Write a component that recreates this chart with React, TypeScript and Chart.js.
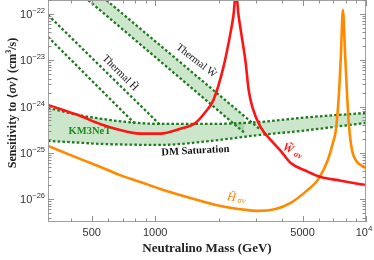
import React, { useEffect, useRef } from 'react';
import { Chart, registerables } from 'chart.js';
Chart.register(...registerables);

// ---- data (mass in GeV, sensitivity in cm^3/s) ----
const redMass = [310, 439, 547, 681, 848, 1056, 1315, 1551, 1730, 1889, 2108, 2276, 2352, 2417, 2484, 2567, 2683, 2774, 2897, 3162, 3528, 3938, 4396, 5180, 6105, 7603, 10000];
const redSigma = [1.08e-24, 6.3e-25, 4.2e-25, 3.1e-25, 2.6e-25, 2.6e-25, 3.3e-25, 4.4e-25, 7.6e-25, 1.39e-24, 7.2e-24, 3.9e-23, 9.5e-23, 3e-22, 9.5e-23, 3.5e-23, 9.2e-24, 2.3e-24, 9.3e-25, 3.6e-25, 1.9e-25, 1.1e-25, 6.0e-26, 4.1e-26, 3.0e-26, 2.5e-26, 2.0e-26];

const orangeMass = [310, 439, 547, 681, 848, 1056, 1468, 2039, 2683, 3094, 3727, 4396, 5294, 5906, 6592, 6965, 7196, 7435, 7603, 7772, 7943, 8120, 8298, 8577, 9063, 10000];
const orangeSigma = [1.41e-25, 7.4e-26, 5.0e-26, 3.3e-26, 2.35e-26, 1.66e-26, 1.06e-26, 7.1e-27, 5.85e-27, 5.56e-27, 6.14e-27, 8.3e-27, 1.58e-26, 2.6e-26, 7.0e-26, 1.64e-25, 3.1e-25, 1.78e-24, 1.3e-23, 1.22e-22, 1.67e-23, 2.07e-24, 4.0e-25, 1.16e-25, 6.4e-26, 4.7e-26];

const km3Mass = [310, 454, 547, 659, 1056, 1828, 3162, 4903, 10000];
const km3Upper = [9.33e-25, 6.27e-25, 5.5e-25, 4.89e-25, 4.21e-25, 4.21e-25, 4.64e-25, 5.68e-25, 7.28e-25];
const km3Lower = [1.81e-25, 1.64e-25, 1.56e-25, 1.52e-25, 1.48e-25, 1.81e-25, 2.44e-25, 2.97e-25, 4.43e-25];

const thermalWLowerMass = [394, 2653];
const thermalWLowerSigma = [4.31e-22, 2.69e-25];
const thermalWUpperMass = [480, 3162];
const thermalWUpperSigma = [4.27e-22, 3.13e-25];

const thermalHAMass = [310, 1056];
const thermalHASigma = [9.5e-23, 4.0e-25];
const thermalHBMass = [310, 803];
const thermalHBSigma = [3.19e-23, 4.2e-25];

const xTickValues = [500, 1000, 5000, 10000];
const xTickLabels = ['500', '1000', '5000', '10|4'];
const yTickValues = [1e-22, 1e-23, 1e-24, 1e-25, 1e-26];
const yTickExponents = ['\u221222', '\u221223', '\u221224', '\u221225', '\u221226'];

const X_MIN = 310, X_MAX = 10000, Y_MIN = 3.2e-27, Y_MAX = 2e-22;

const pts = (m: number[], s: number[]) => m.map((v, i) => ({ x: v, y: s[i] }));

const GREEN = '#1c781c';
const GREEN_FILL = 'rgba(40,150,40,0.24)';
const SERIF = '"Liberation Serif", "DejaVu Serif", serif';
const SANS = '"Liberation Sans", "DejaVu Sans", sans-serif';

type Part = [string, string, number?];

function drawParts(ctx: CanvasRenderingContext2D, parts: Part[], cx: number, cy: number, angleDeg: number, color: string, align: 'center' | 'right' | 'left' = 'center', baseline: CanvasTextBaseline = 'alphabetic') {
  ctx.save();
  ctx.fillStyle = color;
  ctx.textBaseline = baseline;
  let w = 0;
  for (const p of parts) { ctx.font = p[1]; w += ctx.measureText(p[0]).width; }
  ctx.translate(cx, cy);
  ctx.rotate((angleDeg * Math.PI) / 180);
  let x = align === 'center' ? -w / 2 : align === 'right' ? -w : 0;
  for (const p of parts) {
    ctx.font = p[1];
    ctx.fillText(p[0], x, p[2] || 0);
    x += ctx.measureText(p[0]).width;
  }
  ctx.restore();
}

const decor = {
  id: 'decor',
  afterDatasetsDraw(chart: any) {
    const { ctx, chartArea: a, scales } = chart;
    const xs = scales.x, ys = scales.y;
    ctx.save();
    // frame
    ctx.strokeStyle = '#a0a0a0';
    ctx.lineWidth = 1;
    ctx.strokeRect(a.left + 0.5, a.top + 0.5, a.right - a.left - 1, a.bottom - a.top - 1);
    // ticks
    ctx.beginPath();
    for (let e = 2; e <= 4; e++) {
      for (let k = 1; k <= 9; k++) {
        const v = k * Math.pow(10, e);
        if (v < X_MIN || v > X_MAX) continue;
        const px = Math.round(xs.getPixelForValue(v)) + 0.5;
        const len = xTickValues.includes(v) ? 6 : 3.5;
        ctx.moveTo(px, a.bottom); ctx.lineTo(px, a.bottom - len);
        ctx.moveTo(px, a.top); ctx.lineTo(px, a.top + len);
      }
    }
    for (let e = -27; e <= -22; e++) {
      for (let k = 1; k <= 9; k++) {
        const v = k * Math.pow(10, e);
        if (v < Y_MIN || v > Y_MAX) continue;
        const py = Math.round(ys.getPixelForValue(v)) + 0.5;
        const len = k === 1 ? 6 : 3.5;
        ctx.moveTo(a.left, py); ctx.lineTo(a.left + len, py);
        ctx.moveTo(a.right, py); ctx.lineTo(a.right - len, py);
      }
    }
    ctx.strokeStyle = '#909090';
    ctx.stroke();
    ctx.restore();

    // tick labels
    const lab = '#333';
    xTickValues.forEach((v, i) => {
      const px = xs.getPixelForValue(v);
      const t = xTickLabels[i];
      if (t.includes('|')) {
        const [b, ex] = t.split('|');
        drawParts(ctx, [[b, `11px ${SANS}`], [ex, `8px ${SANS}`, -5]], px - 2, 236, 0, lab);
      } else {
        drawParts(ctx, [[t, `11px ${SANS}`]], px, 236, 0, lab);
      }
    });
    yTickValues.forEach((v, i) => {
      const py = ys.getPixelForValue(v);
      drawParts(ctx, [['10', `11px ${SANS}`, 4], [yTickExponents[i], `7.5px ${SANS}`, -1]], a.left - 3, py, 0, lab, 'right');
    });

    // axis titles
    drawParts(ctx, [['Neutralino Mass (GeV)', `bold 13px ${SERIF}`]], (a.left + a.right) / 2, 252, 0, '#222');
    drawParts(ctx, [
      ['Sensitivity to ', `bold 12px ${SERIF}`],
      ['\u27E8', `bold 12px "DejaVu Serif", serif`],
      ['\u03C3v', `bold italic 12px ${SERIF}`],
      ['\u27E9', `bold 12px "DejaVu Serif", serif`],
      [' (cm', `bold 12px ${SERIF}`],
      ['3', `bold 8px ${SERIF}`, -5],
      ['/s)', `bold 12px ${SERIF}`],
    ], 16, (a.top + a.bottom) / 2 - 8, -90, '#222');

    // annotations (positions in data coordinates)
    const P = (m: number, s: number) => [xs.getPixelForValue(m), ys.getPixelForValue(s)];
    let [x1, y1] = P(1568, 9.66e-24);
    drawParts(ctx, [['Thermal W\u0303', `10.5px ${SERIF}`]], x1, y1, 38, '#111', 'center', 'middle');
    [x1, y1] = P(681, 5.3e-24);
    drawParts(ctx, [['Thermal H\u0303', `10.5px ${SERIF}`]], x1, y1, 45, '#111', 'center', 'middle');
    [x1, y1] = P(490, 2.97e-25);
    drawParts(ctx, [['KM3NeT', `bold 10.5px ${SERIF}`]], x1, y1, 0, '#1f8a1f', 'center', 'middle');
    [x1, y1] = P(1551, 1.1e-25);
    drawParts(ctx, [['DM Saturation', `bold 10.5px ${SERIF}`]], x1, y1, -3, '#111', 'center', 'middle');
    [x1, y1] = P(4493, 1.1e-25);
    drawParts(ctx, [['W\u0303', `bold italic 12px ${SERIF}`], [' \u03C3v', `bold italic 8.5px ${SERIF}`, 2]], x1, y1, 25, '#ff1a1a', 'center', 'middle');
    [x1, y1] = P(2430, 1.05e-26);
    drawParts(ctx, [['H\u0303', `italic 12px ${SERIF}`], [' \u03C3v', `italic 8.5px ${SERIF}`, 2]], x1, y1, 8, '#ff8000', 'center', 'middle');
  },
};

export default function App() {
  const ref = useRef<HTMLCanvasElement>(null);
  useEffect(() => {
    document.body.style.margin = '0';
    const canvas = ref.current!;
    const dashed = { borderColor: GREEN, borderWidth: 2.3, borderDash: [2.6, 2.2], pointRadius: 0, borderCapStyle: 'butt' };
    const chart = new Chart(canvas, {
      type: 'line',
      data: {
        datasets: [
          { data: pts(redMass, redSigma), borderColor: '#ff1414', borderWidth: 2.6, pointRadius: 0, cubicInterpolationMode: 'monotone', fill: false },
          { data: pts(orangeMass, orangeSigma), borderColor: '#ff8a00', borderWidth: 2.6, pointRadius: 0, cubicInterpolationMode: 'monotone', fill: false },
          { data: pts(km3Mass, km3Upper), ...dashed, fill: '+1', backgroundColor: GREEN_FILL, cubicInterpolationMode: 'monotone' },
          { data: pts(km3Mass, km3Lower), ...dashed, fill: false, cubicInterpolationMode: 'monotone' },
          { data: pts(thermalWLowerMass, thermalWLowerSigma), ...dashed, fill: '+1', backgroundColor: GREEN_FILL },
          { data: pts(thermalWUpperMass, thermalWUpperSigma), ...dashed, fill: false },
          { data: pts(thermalHAMass, thermalHASigma), ...dashed, fill: false },
          { data: pts(thermalHBMass, thermalHBSigma), ...dashed, fill: false },
        ] as any,
      },
      options: {
        responsive: false,
        animation: false,
        devicePixelRatio: 1,
        layout: { padding: { left: 48, right: 8, top: 0, bottom: 38 } },
        scales: {
          x: { type: 'logarithmic', min: X_MIN, max: X_MAX, display: false },
          y: { type: 'logarithmic', min: Y_MIN, max: Y_MAX, display: false },
        },
        plugins: { legend: { display: false }, tooltip: { enabled: false } },
      } as any,
      plugins: [decor],
    });
    return () => chart.destroy();
  }, []);
  return <canvas ref={ref} width={374} height={260} style={{ display: 'block' }} />;
}
